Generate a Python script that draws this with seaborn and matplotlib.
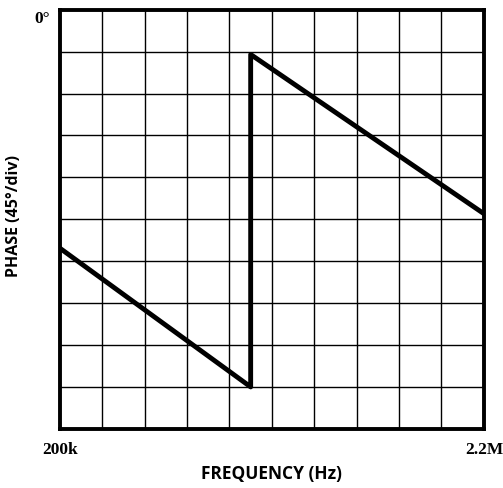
import numpy as np
import pandas as pd
import matplotlib.pyplot as plt
import seaborn as sns

# Phase response (degrees, 45 deg per division)
freq_hz = [200e3, 1.1e6, 1.1e6, 2.2e6]
phase_deg = [-256, -405, -48, -219]
x_tick_labels = ["200k", "2.2M"]

df = pd.DataFrame({"freq": freq_hz, "phase": phase_deg})

sns.set_style("white")
plt.rcParams["text.color"] = "black"
plt.rcParams["xtick.color"] = "black"
plt.rcParams["ytick.color"] = "black"
plt.rcParams["axes.labelcolor"] = "black"

fig = plt.figure(figsize=(5.03, 4.89), dpi=100)
ax = fig.add_axes([0.119, 0.121, 0.843, 0.857])

sns.lineplot(data=df, x="freq", y="phase", sort=False, estimator=None,
             color="black", linewidth=3.5, ax=ax)

ax.set_xlim(200e3, 2.2e6)
ax.set_ylim(-450, 0)

# grid: 10 x 10 divisions
ax.set_xticks(np.arange(200e3, 2.2e6 + 1, 200e3), minor=True)
ax.set_yticks(np.arange(-450, 1, 45), minor=True)
ax.grid(which="minor", color="black", linewidth=1.0)
ax.tick_params(which="both", length=0)

ax.set_xticks([200e3, 2.2e6])
ax.set_xticklabels(x_tick_labels, fontfamily="Liberation Serif",
                   fontweight="bold", fontsize=12.5)
ax.tick_params(axis="x", pad=9)
ax.set_yticks([0])
ax.set_yticklabels(["0°"], fontfamily="Liberation Serif",
                   fontweight="bold", fontsize=12.5)
ax.get_yticklabels()[0].set_verticalalignment("top")
ax.tick_params(axis="y", pad=7)

for s in ax.spines.values():
    s.set_visible(True)
    s.set_color("black")
    s.set_linewidth(2.8)

ax.set_xlabel("FREQUENCY (Hz)", fontfamily="Open Sans", fontweight="bold",
              fontsize=12.5)
ax.xaxis.set_label_coords(0.5, -0.085)
ax.set_ylabel("PHASE (45°/div)", fontfamily="Open Sans", fontweight="bold",
              fontsize=11.5)
ax.yaxis.set_label_coords(-0.09, 0.51)

plt.savefig("out.png", dpi=100)
